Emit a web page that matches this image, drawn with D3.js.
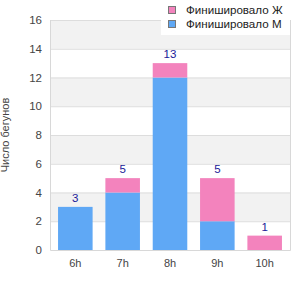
<!DOCTYPE html>
<html>
<head>
<meta charset="utf-8">
<script src="https://cdnjs.cloudflare.com/ajax/libs/d3/7.8.5/d3.min.js"></script>
<style>
  body { margin: 0; background: #fff; }
  text { font-family: "Liberation Sans", Arial, sans-serif; }
</style>
</head>
<body>
<div id="viz"></div>
<script>
// данные
const categories = ['6h', '7h', '8h', '9h', '10h'];
const menValues = [3, 4, 12, 2, 0];
const womenValues = [0, 1, 1, 3, 1];
const yTicks = [0, 2, 4, 6, 8, 10, 12, 14, 16];
const seriesNames = ['Финишировало Ж', 'Финишировало М'];

const W = 300, H = 300;
const margin = {top: 20, right: 10, bottom: 50, left: 50};

const svg = d3.select('#viz').append('svg')
  .attr('width', W).attr('height', H);

const x = d3.scaleBand().domain(categories)
  .range([margin.left, W - margin.right]).paddingInner(0.27).paddingOuter(0.17);
const y = d3.scaleLinear().domain([0, 16]).range([H - margin.bottom, margin.top]);

// чередующиеся полосы
for (let i = 0; i < yTicks.length - 1; i++) {
  if (i % 2 === 1) {
    svg.append('rect')
      .attr('x', margin.left).attr('width', W - margin.right - margin.left)
      .attr('y', y(yTicks[i + 1])).attr('height', y(yTicks[i]) - y(yTicks[i + 1]))
      .attr('fill', '#f2f2f2');
  }
}

// сетка
svg.append('g').selectAll('line').data(yTicks.slice(1)).join('line')
  .attr('x1', margin.left).attr('x2', W - margin.right)
  .attr('y1', d => y(d) + 0.5).attr('y2', d => y(d) + 0.5)
  .attr('stroke', '#dddddd');

// рамка
svg.append('path')
  .attr('d', `M${margin.left + 0.5},${margin.top}V${y(0) + 0.5}H${W - margin.right + 0.5}V${margin.top}`)
  .attr('fill', 'none').attr('stroke', '#d8d8d8');

// столбцы
const pink = '#f383bd', blue = '#5fa8f5';
categories.forEach((c, i) => {
  const m = menValues[i], w = womenValues[i];
  if (m > 0) svg.append('rect')
    .attr('x', x(c)).attr('width', x.bandwidth())
    .attr('y', y(m)).attr('height', y(0) - y(m)).attr('fill', blue);
  if (w > 0) svg.append('rect')
    .attr('x', x(c)).attr('width', x.bandwidth())
    .attr('y', y(m + w)).attr('height', y(m) - y(m + w)).attr('fill', pink);
  svg.append('text')
    .attr('x', x(c) + x.bandwidth() / 2).attr('y', y(m + w) - 5)
    .attr('text-anchor', 'middle').attr('font-size', 11.5).attr('fill', '#1a1a99')
    .text(m + w);
});

// оси
const yAxis = svg.append('g').attr('transform', `translate(${margin.left},0)`)
  .call(d3.axisLeft(y).tickValues(yTicks).tickSize(0).tickPadding(8));
yAxis.select('.domain').remove();
yAxis.selectAll('text').attr('font-size', 11.5).attr('fill', '#444')
  .attr('font-family', '"Liberation Sans", Arial, sans-serif');

const xAxis = svg.append('g').attr('transform', `translate(0,${y(0)})`)
  .call(d3.axisBottom(x).tickSize(0).tickPadding(9));
xAxis.select('.domain').remove();
xAxis.selectAll('text').attr('font-size', 11).attr('fill', '#444')
  .attr('font-family', '"Liberation Sans", Arial, sans-serif');

svg.append('text')
  .attr('transform', `translate(9,${(margin.top + y(0)) / 2}) rotate(-90)`)
  .attr('text-anchor', 'middle').attr('font-size', 11).attr('fill', '#444')
  .text('Число бегунов');

// легенда
svg.append('rect').attr('x', 161).attr('y', 0).attr('width', 129).attr('height', 35)
  .attr('fill', '#fff');
const legColors = [pink, blue];
seriesNames.forEach((n, i) => {
  svg.append('rect').attr('x', 168.5).attr('y', 6.5 + i * 14).attr('width', 7).attr('height', 7)
    .attr('fill', legColors[i]).attr('stroke', '#777');
  svg.append('text').attr('x', 186).attr('y', 14 + i * 14)
    .attr('font-size', 11.6).attr('fill', '#222').text(n);
});
</script>
</body>
</html>
